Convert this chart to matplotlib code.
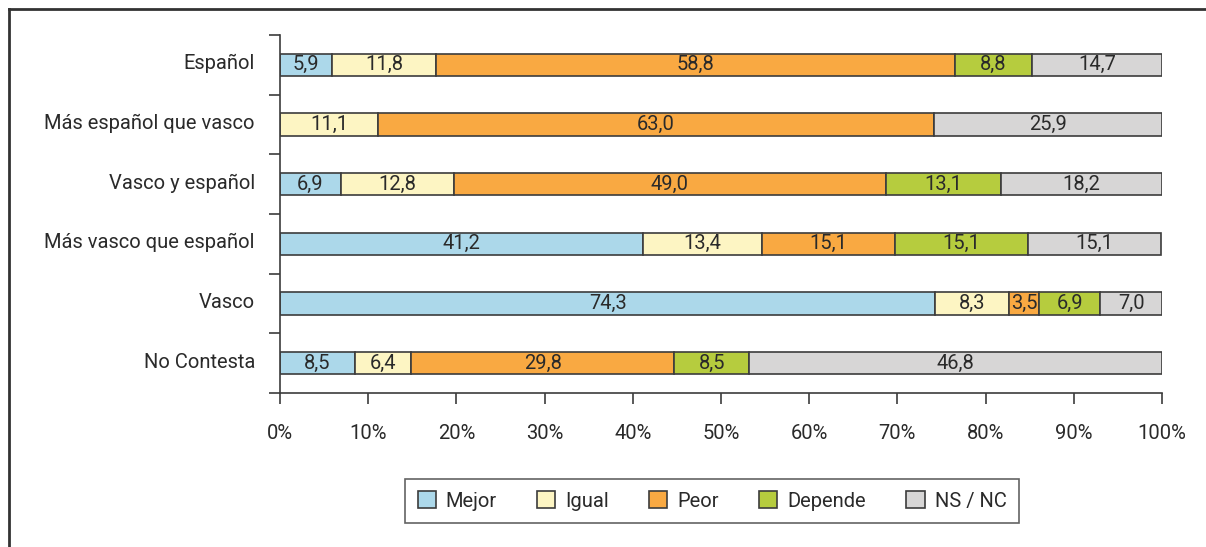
import numpy as np
import matplotlib
matplotlib.use('Agg')
import matplotlib.pyplot as plt
from matplotlib.lines import Line2D

plt.rcParams['font.family'] = ['Roboto', 'DejaVu Sans']

categorias = ['Español', 'Más español que vasco', 'Vasco y español',
              'Más vasco que español', 'Vasco', 'No Contesta']
series = ['Mejor', 'Igual', 'Peor', 'Depende', 'NS / NC']
mejor = [5.9, 0.0, 6.9, 41.2, 74.3, 8.5]
igual = [11.8, 11.1, 12.8, 13.4, 8.3, 6.4]
peor = [58.8, 63.0, 49.0, 15.1, 3.5, 29.8]
depende = [8.8, 0.0, 13.1, 15.1, 6.9, 8.5]
nsnc = [14.7, 25.9, 18.2, 15.1, 7.0, 46.8]
colores = ['#acd8ea', '#fdf5c3', '#f9a942', '#b6cc3e', '#d7d6d6']

valores = [mejor, igual, peor, depende, nsnc]
edge = '#3c3c3c'
txt = '#2a2a2a'
fs = 14.5

fig = plt.figure(figsize=(12.06, 5.47), dpi=100)
ax = fig.add_axes([280/1206, 1-393/547, 882/1206, 358/547])

y = np.arange(len(categorias))
left = np.zeros(len(categorias))
for nombre, vals, col in zip(series, valores, colores):
    vals = np.array(vals)
    ax.barh(y, vals, left=left, height=0.37, color=col, edgecolor=edge,
            linewidth=1.2, label=nombre)
    for i, v in enumerate(vals):
        if v > 0:
            ax.text(left[i] + v/2, y[i], ('%.1f' % v).replace('.', ','),
                    ha='center', va='center', fontsize=fs, color=txt)
    left = left + vals

ax.set_xlim(0, 100)
ax.set_ylim(len(categorias) - 0.5, -0.5)
ax.set_xticks(np.arange(0, 101, 10))
ax.set_xticklabels(['%d%%' % t for t in range(0, 101, 10)], fontsize=fs, color=txt)
ax.set_yticks(np.arange(-0.5, len(categorias), 1))
ax.set_yticklabels([])
# etiquetas de categoria un poco por encima del centro de la barra
ax.set_yticks(y - 0.05, minor=True)
ax.set_yticklabels(categorias, minor=True, fontsize=fs, color=txt)
ax.tick_params(axis='y', which='major', length=8, width=1.2, color=edge, direction='out')
ax.tick_params(axis='y', which='minor', length=0, pad=18)
ax.tick_params(axis='x', length=8, width=1.2, color=edge, direction='out', pad=14)
for s in ['top', 'right']:
    ax.spines[s].set_visible(False)
for s in ['left', 'bottom']:
    ax.spines[s].set_color(edge)
    ax.spines[s].set_linewidth(1.2)

leg = fig.legend(loc='center', bbox_to_anchor=(712/1206, 1-501/547), ncol=5,
                 fontsize=fs, frameon=True, fancybox=False, edgecolor=edge,
                 handlelength=0.9, handleheight=0.9, columnspacing=2.0,
                 borderpad=0.6, handletextpad=0.5)
leg.get_frame().set_linewidth(1.2)
for t in leg.get_texts():
    t.set_color(txt)

# marco exterior (abierto a la derecha y abajo)
fig.add_artist(Line2D([9/1206, 9/1206], [0, 1-9/547], color='#333333', lw=2))
fig.add_artist(Line2D([9/1206, 1], [1-9/547, 1-9/547], color='#333333', lw=2))

fig.savefig('out.png', dpi=100)
